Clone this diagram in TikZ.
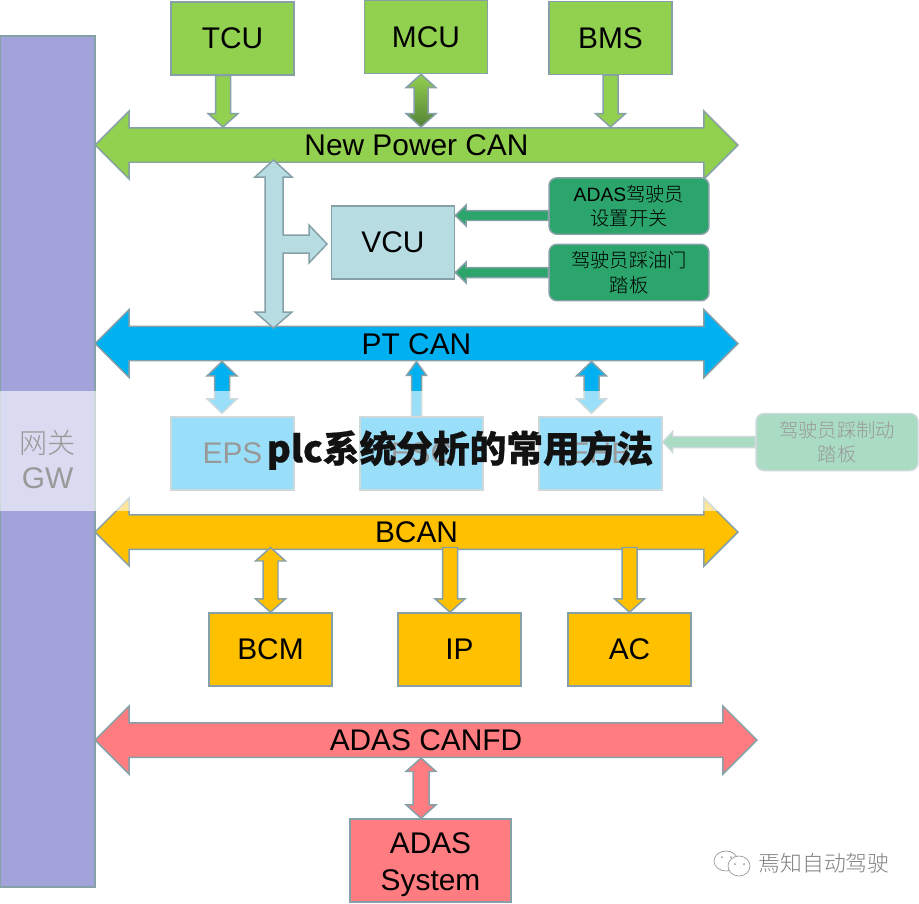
\documentclass[tikz,border=0pt]{standalone}
\usepackage{fontspec}
\setmainfont{Liberation Sans}
\newfontfamily\cjk{Noto Sans CJK SC Light}
\newfontfamily\titlecjk{Noto Sans CJK SC Black}[FakeBold=.6]
\usetikzlibrary{calc,shapes.arrows}
\definecolor{edgegray}{HTML}{86A0A8}
\definecolor{gwpurple}{HTML}{A3A3DC}
\definecolor{npgreen}{HTML}{92D050}
\definecolor{npdark}{HTML}{548235}
\definecolor{ptblue}{HTML}{00B0F0}
\definecolor{vcublue}{HTML}{B7DDE3}
\definecolor{pedalgreen}{HTML}{2BA56B}
\definecolor{bcanorange}{HTML}{FFC000}
\definecolor{adasred}{HTML}{FF7C80}
\tikzset{
  unitbox/.style={draw=edgegray,line width=.85pt,minimum width=2.46cm,minimum height=1.46cm,inner sep=0pt,font=\fontsize{17}{21}\selectfont},
  pedalbox/.style={draw=edgegray,line width=.85pt,rounded corners=.16cm,minimum width=3.2cm,minimum height=1.13cm,inner sep=0pt,align=center,font=\fontsize{11}{14}\selectfont},
  busarrow/.style={double arrow,draw=edgegray,line width=.85pt,inner xsep=0pt,inner ysep=0pt,minimum height=12.86cm,double arrow head extend=.335cm,text height=.54cm,text depth=.12cm,font=\fontsize{17}{20}\selectfont},
  linkarrow/.style={draw=edgegray,line width=.85pt}
}
\newcommand{\oneway}[6]{
  \draw [linkarrow,#1] ($(#2)!#4!90:(#3)$) -- ($(#3)!#6!(#2)!#4!-90:(#2)$) -- ($(#3)!#6!(#2)!#5!-90:(#2)$) -- (#3)
    -- ($(#3)!#6!(#2)!#5!90:(#2)$) -- ($(#3)!#6!(#2)!#4!90:(#2)$) -- ($(#2)!#4!-90:(#3)$) -- cycle;
}
\newcommand{\twoway}[6]{
  \draw [linkarrow,#1] (#2) -- ($(#2)!#6!(#3)!#5!90:(#3)$) -- ($(#2)!#6!(#3)!#4!90:(#3)$)
    -- ($(#3)!#6!(#2)!#4!-90:(#2)$) -- ($(#3)!#6!(#2)!#5!-90:(#2)$) -- (#3)
    -- ($(#3)!#6!(#2)!#5!90:(#2)$) -- ($(#3)!#6!(#2)!#4!90:(#2)$)
    -- ($(#2)!#6!(#3)!#4!-90:(#3)$) -- ($(#2)!#6!(#3)!#5!-90:(#3)$) -- cycle;
}
\begin{document}
\begin{tikzpicture}[x=.02cm,y=-.02cm]

  \useasboundingbox (0,0) rectangle (919,903);

  \node (gw) [draw=edgegray,line width=.85pt,fill=gwpurple,minimum width=1.9cm,minimum height=17.02cm,inner sep=0pt] at (47.5,461.5) {};
  \node (gwlabel) [inner sep=0pt,align=center,font=\fontsize{17}{20}\selectfont] at (47.5,459.5) {{\fontsize{16}{20}\cjk 网关}\\GW};

  \node (tcu) [unitbox,fill=npgreen] at (232.5,38.5) {TCU};
  \node (mcu) [unitbox,fill=npgreen] at (426,37) {MCU};
  \node (bms) [unitbox,fill=npgreen] at (610.5,38) {BMS};
  \node (newpower) [busarrow,fill=npgreen] at (416.5,145) {New Power CAN};

  \oneway{fill=npgreen}{[xshift=-.19cm]tcu.south}{[xshift=-.19cm]tcu.south |- newpower.north}{.15cm}{.3cm}{.27cm}
  \twoway{top color=npgreen,bottom color=npdark}{[xshift=-.1cm]mcu.south}{[xshift=-.1cm]mcu.south |- newpower.north}{.14cm}{.3cm}{.27cm}
  \oneway{fill=npgreen}{bms.south}{bms.south |- newpower.north}{.15cm}{.3cm}{.27cm}

  \node (vcu) [unitbox,fill=vcublue] at (393,242.5) {VCU};
  \node (adasswitch) [pedalbox,fill=pedalgreen] at (629,206) {ADAS{\cjk 驾驶员}\\{\cjk 设置开关}};
  \node (gaspedal) [pedalbox,fill=pedalgreen] at (629,272.5) {{\cjk 驾驶员踩油门}\\{\cjk 踏板}};

  \oneway{fill=pedalgreen}{[yshift=-.19cm]adasswitch.west}{[yshift=-.19cm]adasswitch.west -| vcu.east}{.1cm}{.21cm}{.22cm}
  \oneway{fill=pedalgreen}{gaspedal.west}{gaspedal.west -| vcu.east}{.1cm}{.21cm}{.22cm}

  \node (ptcan) [busarrow,fill=ptblue] at (416.5,343.5) {PT CAN};

  \draw [linkarrow,fill=vcublue] (273.5,160) -- (292,177) -- (283,177) -- (283,235) -- (309,235) -- (309,225) -- (327,244)
    -- (309,263) -- (309,253) -- (283,253) -- (283,312) -- (292,312) -- (273.5,328) -- (255,312) -- (265,312) -- (265,177) -- (255,177) -- cycle;

  \node (eps) [unitbox,fill=ptblue] at (232.5,453.5) {EPS};
  \node (esc) [unitbox,fill=ptblue] at (421.5,453.5) {ESC};
  \node (ehb) [unitbox,fill=ptblue] at (600.5,453.5) {EHB};
  \node (brakepedal) [pedalbox,fill=pedalgreen,minimum width=3.24cm,minimum height=1.14cm] at (837,442) {{\cjk 驾驶员踩制动}\\{\cjk 踏板}};

  \twoway{fill=ptblue}{[xshift=-.21cm]eps.north |- ptcan.south}{[xshift=-.21cm,yshift=.06cm]eps.north}{.15cm}{.3cm}{.29cm}
  \oneway{fill=ptblue}{[xshift=-.1cm]esc.north}{[xshift=-.1cm]esc.north |- ptcan.south}{.1cm}{.2cm}{.28cm}
  \twoway{fill=ptblue}{[xshift=-.18cm]ehb.north |- ptcan.south}{[xshift=-.18cm,yshift=.06cm]ehb.north}{.15cm}{.3cm}{.29cm}
  \oneway{fill=pedalgreen}{brakepedal.west}{brakepedal.west -| ehb.east}{.11cm}{.21cm}{.2cm}

  \node (bcan) [busarrow,fill=bcanorange] at (416.5,532) {BCAN};
  \node (bcm) [unitbox,fill=bcanorange] at (270.5,649.5) {BCM};
  \node (ip) [unitbox,fill=bcanorange] at (459.5,649.5) {IP};
  \node (ac) [unitbox,fill=bcanorange] at (629.5,649.5) {AC};

  \twoway{fill=bcanorange}{[yshift=.05cm]bcm.north |- bcan.south}{bcm.north}{.15cm}{.3cm}{.27cm}
  \oneway{fill=bcanorange}{[xshift=-.19cm,yshift=.05cm]ip.north |- bcan.south}{[xshift=-.19cm]ip.north}{.15cm}{.3cm}{.27cm}
  \oneway{fill=bcanorange}{[yshift=.05cm]ac.north |- bcan.south}{ac.north}{.15cm}{.3cm}{.27cm}

  \node (adascan) [busarrow,fill=adasred,minimum height=13.24cm] at (426,740) {ADAS CANFD};
  \node (adassys) [unitbox,fill=adasred,minimum width=3.22cm,minimum height=1.66cm,align=center] at (430.5,860.5) {\rule{0pt}{.58cm}ADAS\\System};

  \twoway{fill=adasred}{[xshift=-.19cm]adassys.north |- adascan.south}{[xshift=-.19cm]adassys.north}{.16cm}{.3cm}{.27cm}

  \fill [white,opacity=.6] (0,391) rectangle (919,511);

  \node (title) [text=black!93,font=\fontsize{20.9}{26}\titlecjk] at (460,450) {plc系统分析的常用方法};

  \node (mark) [text=black!50,font=\fontsize{12.4}{15}\cjk] at (824,863) {焉知自动驾驶};
  \draw [black!40,line width=.4pt] (726,861) ellipse (12 and 10);
  \draw [black!40,line width=.4pt,fill=white] (739,866) ellipse (11 and 10);
  \foreach \eyex/\eyey in {722/857,731/857,735/864,744/864}
    \fill [black!40] (\eyex,\eyey) circle (1);

\end{tikzpicture}
\end{document}
